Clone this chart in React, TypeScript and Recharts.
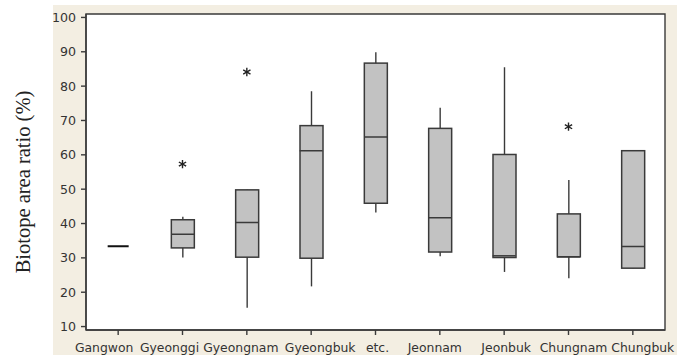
import React from 'react';
import { ComposedChart, Bar, Scatter, XAxis, YAxis, CartesianGrid, ReferenceArea } from 'recharts';

// ---- data ----
const categories = ['Gangwon', 'Gyeonggi', 'Gyeongnam', 'Gyeongbuk', 'etc.', 'Jeonnam', 'Jeonbuk', 'Chungnam', 'Chungbuk'];
const whiskerLow = [33.4, 30.1, 15.5, 21.7, 43.2, 30.5, 25.9, 24.1, 27.0];
const q1 = [33.4, 32.9, 30.2, 29.9, 45.9, 31.7, 30.1, 30.3, 27.0];
const median = [33.4, 36.9, 40.3, 61.2, 65.2, 41.7, 30.6, 30.3, 33.3];
const q3 = [33.4, 41.1, 49.8, 68.5, 86.7, 67.7, 60.1, 42.8, 61.2];
const whiskerHigh = [33.4, 42.0, 49.8, 78.5, 89.9, 73.7, 85.5, 52.7, 61.2];
const outliers: (number | null)[] = [null, 57.3, 84.1, null, null, null, null, 68.2, null];
const yTicks = [10, 20, 30, 40, 50, 60, 70, 80, 90, 100];

const data = categories.map((cat, i) => ({
  cat,
  whisker: [whiskerLow[i], whiskerHigh[i]],
  box: [q1[i], q3[i]],
  median: median[i],
  outlier: outliers[i],
}));

// ---- style ----
const INK = '#3a3a3a';
const FONT = "'DejaVu Sans', sans-serif";
const LABEL_NUDGE = [-14, -13, -6, 9, 2, -5, 2, 5, 10];

const WhiskerShape = (props: any) => {
  const { x, y, width, height } = props;
  if (x == null || y == null) return <g />;
  const cx = x + width / 2;
  return <line x1={cx} x2={cx} y1={y} y2={y + height} stroke={INK} strokeWidth={1.4} />;
};

const BoxShape = (props: any) => {
  const { x, y, width, height } = props;
  if (x == null || y == null || !height) return <g />;
  return <rect x={x} y={y} width={width} height={height} fill="#c2c2c2" stroke={INK} strokeWidth={1.5} />;
};

const MedianShape = (props: any) => {
  const { cx, cy, payload } = props;
  if (cx == null || cy == null) return <g />;
  const flat = payload && payload.box && payload.box[0] === payload.box[1];
  const half = flat ? 10.5 : 11.5;
  return (
    <line x1={cx - half} x2={cx + half} y1={cy} y2={cy} stroke={flat ? '#111' : INK} strokeWidth={flat ? 2 : 1.5} />
  );
};

const OutlierShape = (props: any) => {
  const { cx, cy, payload } = props;
  if (!payload || payload.outlier == null || cx == null || cy == null) return <g />;
  const r = 4.2;
  const a = r * Math.cos(Math.PI / 6);
  const b = r * Math.sin(Math.PI / 6);
  return (
    <g stroke="#222" strokeWidth={1.4}>
      <line x1={cx} x2={cx} y1={cy - r} y2={cy + r} />
      <line x1={cx - a} x2={cx + a} y1={cy - b} y2={cy + b} />
      <line x1={cx - a} x2={cx + a} y1={cy + b} y2={cy - b} />
    </g>
  );
};

const CatTick = (props: any) => {
  const { x, y, payload, index } = props;
  return (
    <text
      x={x + (LABEL_NUDGE[index] ?? 0)}
      y={y}
      dy={16.5}
      textAnchor="middle"
      fontFamily={FONT}
      fontSize={12.4}
      fill="#333"
    >
      {payload.value}
    </text>
  );
};

const YTitle = () => (
  <text
    x={23}
    y={182}
    transform="rotate(-90 23 182)"
    textAnchor="middle"
    dominantBaseline="central"
    fontFamily="'Liberation Serif', 'Times New Roman', serif"
    fontSize={20.5}
    fill="#222"
  >
    Biotope area ratio (%)
  </text>
);

export default function App() {
  return (
    <div style={{ position: 'absolute', left: 0, top: 0, width: 677, height: 355, background: '#ffffff', overflow: 'hidden' }}>
      <div style={{ position: 'absolute', left: 53, top: 5, width: 624, height: 350, background: '#f3eee2' }} />
      <div style={{ position: 'absolute', left: 0, top: 0 }}>
        <ComposedChart width={677} height={355} data={data} margin={{ top: 14, right: 12, bottom: 0, left: 0 }}>
          <CartesianGrid horizontal={false} vertical={false} fill="#ffffff" />
          <XAxis
            dataKey="cat"
            type="category"
            height={25}
            tickSize={5}
            tickMargin={0}
            interval={0}
            axisLine={{ stroke: INK, strokeWidth: 1.4 }}
            tickLine={{ stroke: INK, strokeWidth: 1.4 }}
            tick={<CatTick />}
          />
          <XAxis xAxisId="w" dataKey="cat" type="category" hide />
          <YAxis
            type="number"
            domain={[9, 101]}
            allowDataOverflow
            ticks={yTicks}
            interval={0}
            width={86}
            tickSize={5}
            tickMargin={5}
            axisLine={{ stroke: INK, strokeWidth: 1.4 }}
            tickLine={{ stroke: INK, strokeWidth: 1.4 }}
            tick={{ fontFamily: FONT, fontSize: 12.6, fill: '#333' }}
            label={{ content: () => <YTitle /> }}
          />
          <ReferenceArea y1={9} y2={101} fill="none" fillOpacity={0} stroke={INK} strokeWidth={1.4} />
          <Bar xAxisId="w" dataKey="whisker" barSize={23} shape={<WhiskerShape />} isAnimationActive={false} />
          <Bar dataKey="box" barSize={23} shape={<BoxShape />} isAnimationActive={false} />
          <Scatter dataKey="median" shape={<MedianShape />} isAnimationActive={false} />
          <Scatter dataKey="outlier" shape={<OutlierShape />} isAnimationActive={false} />
        </ComposedChart>
      </div>
    </div>
  );
}
